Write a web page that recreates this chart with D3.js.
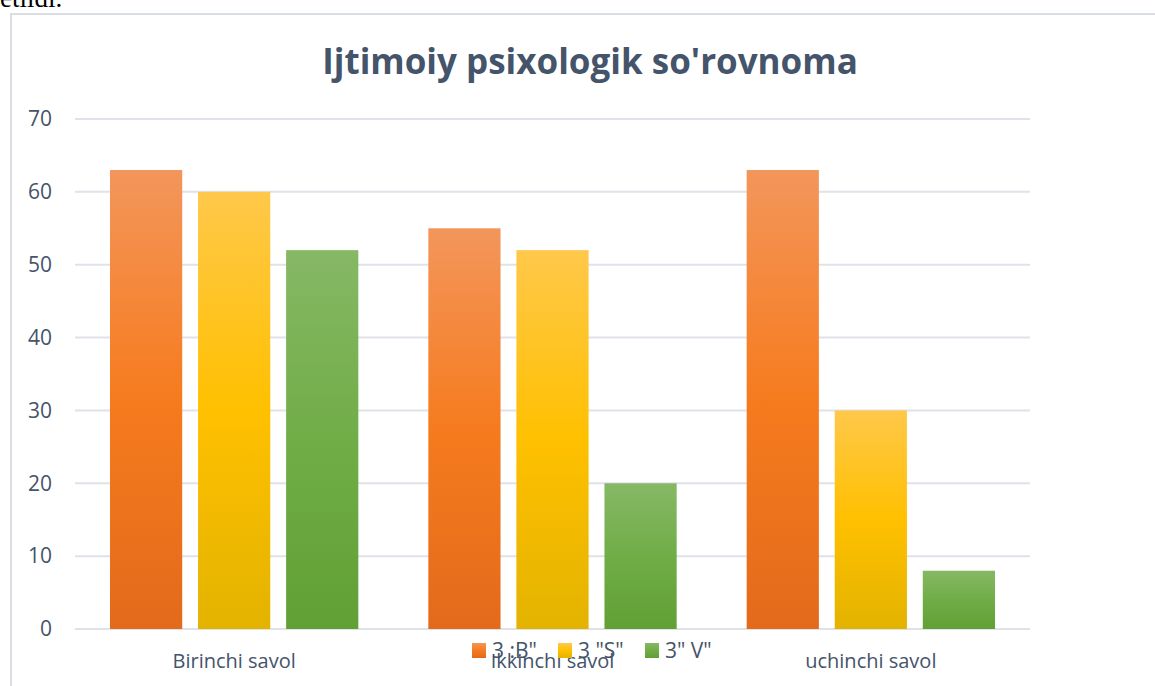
<!DOCTYPE html>
<meta charset="utf-8">
<script src="https://d3js.org/d3.v7.min.js"></script>
<style>
  body { margin: 0; background: #fff; }
  #chart { position: absolute; left: 0; top: 0; }
</style>
<div id="chart"></div>
<script>
// Data
var groups = ["Birinchi savol", "Ikkinchi savol", "uchinchi savol"];
var series = ['3 :B"', '3 "S"', '3" V"'];
var valsB = [63, 55, 63];
var valsS = [60, 52, 30];
var valsV = [52, 20, 8];
var yTicks = [0, 10, 20, 30, 40, 50, 60, 70];

var allVals = [valsB, valsS, valsV];
var colors = [
  { top: "#f3965b", mid: "#f67b1e", bot: "#e36a1b" },
  { top: "#ffc84a", mid: "#ffc000", bot: "#e3b300" },
  { top: "#86b865", mid: "#70ad47", bot: "#61a034" }
];

var W = 1155, H = 686;
var plot = { left: 75, right: 1030, top: 119, bottom: 629 };
var textCol = "#44546a";
var font = "'Open Sans', sans-serif";

var svg = d3.select("#chart").append("svg")
  .attr("width", W).attr("height", H)
  .style("font-family", font);

// gradients
var defs = svg.append("defs");
colors.forEach(function(c, i) {
  var g = defs.append("linearGradient")
    .attr("id", "grad" + i)
    .attr("x1", 0).attr("y1", 0).attr("x2", 0).attr("y2", 1);
  g.append("stop").attr("offset", "0%").attr("stop-color", c.top);
  g.append("stop").attr("offset", "50%").attr("stop-color", c.mid);
  g.append("stop").attr("offset", "100%").attr("stop-color", c.bot);
});

// text above the chart (cut off by page top)
svg.append("text")
  .attr("x", 0).attr("y", 7)
  .style("font-family", "'Liberation Serif', serif")
  .style("font-size", "27px")
  .attr("fill", "#000")
  .text("etildi.");

// chart frame
svg.append("rect")
  .attr("x", 11).attr("y", 14)
  .attr("width", W + 10).attr("height", H + 10)
  .attr("fill", "none")
  .attr("stroke", "#d9dde4")
  .attr("stroke-width", 2);

// title
svg.append("text")
  .attr("x", 590).attr("y", 74)
  .attr("text-anchor", "middle")
  .style("font-size", "35px")
  .style("font-weight", "bold")
  .attr("fill", textCol)
  .text("Ijtimoiy psixologik so'rovnoma");

var y = d3.scaleLinear().domain([0, 70]).range([plot.bottom, plot.top]);
var x0 = d3.scaleBand().domain(groups).range([plot.left, plot.right]);
var x1 = d3.scaleBand().domain(series).range([35, x0.bandwidth() - 35]).paddingInner(0.18);

// gridlines
svg.append("g").selectAll("line")
  .data(yTicks).enter().append("line")
  .attr("x1", plot.left).attr("x2", plot.right)
  .attr("y1", function(d) { return y(d); })
  .attr("y2", function(d) { return y(d); })
  .attr("stroke", "#dfe2e8")
  .attr("stroke-width", 2);

// y axis labels
var yAxis = svg.append("g")
  .attr("transform", "translate(52,0)")
  .call(d3.axisLeft(y).tickValues(yTicks).tickSize(0).tickPadding(0));
yAxis.select(".domain").remove();
yAxis.selectAll("text")
  .style("font-family", font)
  .style("font-size", "21px")
  .attr("fill", textCol);

// bars
var gGroups = svg.append("g").selectAll("g")
  .data(groups).enter().append("g")
  .attr("transform", function(d) { return "translate(" + x0(d) + ",0)"; });

gGroups.selectAll("rect")
  .data(function(d, gi) { return series.map(function(s, si) { return { s: s, si: si, v: allVals[si][gi] }; }); })
  .enter().append("rect")
  .attr("x", function(d) { return x1(d.s); })
  .attr("width", x1.bandwidth())
  .attr("y", function(d) { return y(d.v); })
  .attr("height", function(d) { return y(0) - y(d.v); })
  .attr("fill", function(d) { return "url(#grad" + d.si + ")"; });

// x labels
svg.append("g").selectAll("text")
  .data(groups).enter().append("text")
  .attr("x", function(d) { return x0(d) + x0.bandwidth() / 2; })
  .attr("y", 668)
  .attr("text-anchor", "middle")
  .style("font-size", "20px")
  .attr("fill", textCol)
  .text(function(d) { return d; });

// legend (overlaps the middle label, as in the original)
var legendX = [472, 558, 645];
var legend = svg.append("g").selectAll("g")
  .data(series).enter().append("g")
  .attr("transform", function(d, i) { return "translate(" + legendX[i] + ",643)"; });
legend.append("rect")
  .attr("width", 14).attr("height", 15)
  .attr("fill", function(d, i) { return "url(#grad" + i + ")"; });
legend.append("text")
  .attr("x", 20).attr("y", 14.5)
  .style("font-size", "21px")
  .attr("fill", textCol)
  .text(function(d) { return d; });
</script>
